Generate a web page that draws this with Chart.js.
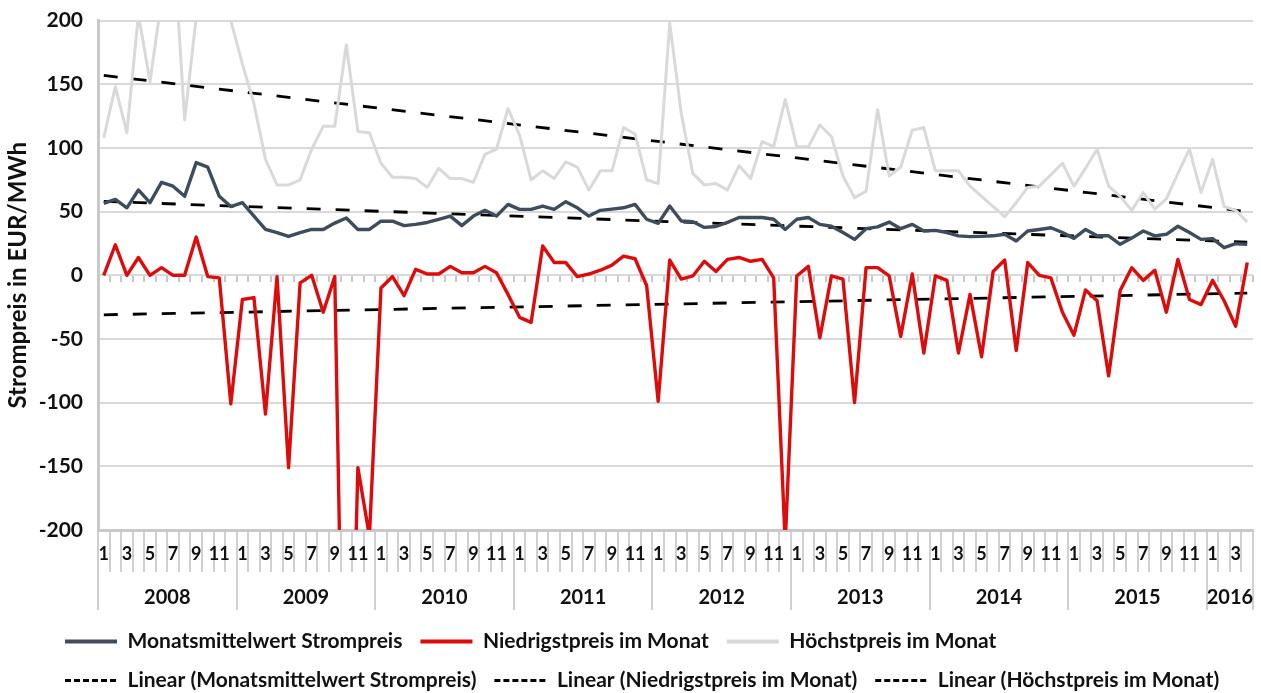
<!DOCTYPE html>
<html>
<head>
<meta charset="utf-8">
<script src="https://cdn.jsdelivr.net/npm/chart.js@4.4.0/dist/chart.umd.min.js"></script>
<style>
    html, body { margin: 0; padding: 0; background: #fff; }
    #rahmen { width: 1261px; height: 693px; }
</style>
</head>
<body>
<div id="rahmen"><canvas id="graficoStrompreis" width="1261" height="693"></canvas></div>
<script>
const jahre = ['2008', '2009', '2010', '2011', '2012', '2013', '2014', '2015', '2016'];
const monateProJahr = [12, 12, 12, 12, 12, 12, 12, 12, 4];

const yMin = -200;
const yMax = 200;
const ySchritt = 50;

// Monatswerte Jan 2008 - Apr 2016 (EUR/MWh)
const mittelwert = [
    56.5, 59.6, 53, 67, 57, 73, 70, 62, 88.5, 85, 62, 54,
    57, 46.5, 36, 33.5, 30.5, 33.5, 36, 36, 41, 45, 36, 36,
    42.5, 42.5, 39, 40, 41.5, 44, 46.5, 39, 46.5, 51, 46.5, 55.7,
    51.8, 51.8, 54.4, 51.8, 57.8, 53, 46.5, 51, 52, 53, 55.7, 44,
    40.8, 54.4, 42.6, 42, 37.6, 38.3, 41.6, 45.4, 45.4, 45.4, 44, 36,
    44, 45.4, 40, 38.5, 33.6, 28.2, 36.6, 38, 41.8, 36.6, 40, 34.8,
    35.3, 33.6, 31, 30.4, 30.6, 31, 32.2, 27, 34.8, 36, 37.3, 33.6,
    29, 36, 31, 31, 24.3, 29.2, 34.8, 31, 32.2, 38.5, 33.6, 28.2,
    28.8, 21.7, 24.8, 24.3
];

const niedrigstpreis = [
    0, 24, 0, 14, 0, 6, 0, 0, 30, -1, -2, -101,
    -19, -17.5, -109, -1, -151, -6, 0, -29, -1, -500, -151, -205,
    -10, -1, -16, 4.7, 1, 1, 7, 2, 2, 7, 2, -15,
    -33, -37, 23, 10, 10, -1, 1, 4, 8, 15, 13, -8,
    -99, 12, -3, -0.5, 11, 3, 12.5, 14, 11, 12.5, -2, -210,
    -0.5, 7, -49, -0.5, -3, -100, 6, 6, -0.5, -48, 1, -61,
    -0.5, -4, -61, -15, -64, 3, 12, -59, 10, 0, -2, -29,
    -47, -11.5, -20, -79, -12, 6, -4, 4, -29, 12.5, -19, -23,
    -4, -20, -40, 10
];

const hoechstpreis = [
    108, 148, 112, 205, 152, 216, 268, 122, 202, 240, 230, 200,
    166, 135, 91, 71, 71, 75, 99, 117, 117, 181, 113, 112,
    88, 77, 77, 76, 69, 84, 76, 76, 73, 95, 99, 131,
    110, 75, 82, 76, 89, 85, 67, 82, 82, 116, 111, 75,
    72, 198, 127, 80, 71, 72, 67, 86, 76, 105, 101, 138,
    101, 101, 118, 109, 78, 61, 66, 130, 78, 85, 114, 116,
    82, 82, 82, 70, 62, 54, 46, 57, 69, 70, 79, 88,
    70, 84, 99, 70, 62, 51, 65, 52, 60, 80, 99, 65,
    91, 54, 51, 42
];

// Anfangs- und Endwert der linearen Trendlinien
const trendMittelwert = [58, 26];
const trendNiedrigst = [-31, -14];
const trendHoechst = [157, 50];

// Monatsnummern und Jahresgrenzen aus den Arrays oben
const monate = [];
const jahrGrenzen = [-0.5];
const jahrMitten = [];
monateProJahr.forEach((anzahl, j) => {
    const start = monate.length;
    for (let m = 1; m <= anzahl; m++) monate.push(m);
    jahrMitten.push(start + (anzahl - 1) / 2);
    jahrGrenzen.push(monate.length - 0.5);
});
const jahrTicks = jahrGrenzen.concat(jahrMitten).sort((a, b) => a - b);

function trendDaten(enden) {
    const d = monate.map(() => null);
    d[0] = enden[0];
    d[d.length - 1] = enden[1];
    return d;
}

Chart.defaults.font.family = 'Lato, "Open Sans", sans-serif';
Chart.defaults.color = '#111';

const trendStil = {
    borderColor: '#000',
    backgroundColor: '#000',
    borderWidth: 2.8,
    borderDash: [14, 15],
    spanGaps: true
};

// y-Achse bis an den linken Rand ziehen, damit "-100" usw. nicht abgeschnitten werden
const yAchseFrei = {
    id: 'yAchseFrei',
    afterLayout(chart) {
        chart.scales.y.left = 0;
    }
};

const ctx = document.getElementById('graficoStrompreis').getContext('2d');
window.graficoStrompreis = new Chart(ctx, {
    type: 'line',
    data: {
        labels: monate.map(String),
        datasets: [
            {
                label: 'Monatsmittelwert Strompreis',
                data: mittelwert,
                borderColor: '#3e4c5b',
                backgroundColor: '#3e4c5b',
                borderWidth: 3.4
            },
            {
                label: 'Niedrigstpreis im Monat',
                data: niedrigstpreis,
                borderColor: '#dd0c0c',
                backgroundColor: '#dd0c0c',
                borderWidth: 3.4
            },
            {
                label: 'Höchstpreis im Monat',
                data: hoechstpreis,
                borderColor: '#d9d9d9',
                backgroundColor: '#d9d9d9',
                borderWidth: 3
            },
            Object.assign({ label: 'Linear (Monatsmittelwert Strompreis)', data: trendDaten(trendMittelwert) }, trendStil),
            Object.assign({ label: 'Linear (Niedrigstpreis im Monat)', data: trendDaten(trendNiedrigst) }, trendStil),
            Object.assign({ label: 'Linear (Höchstpreis im Monat)', data: trendDaten(trendHoechst) }, trendStil)
        ]
    },
    plugins: [yAchseFrei],
    options: {
        responsive: false,
        animation: false,
        layout: { padding: { left: 47, right: 8, top: 0, bottom: 0 } },
        elements: {
            point: { radius: 0, hoverRadius: 0 },
            line: { tension: 0, borderJoinStyle: 'round', fill: false }
        },
        plugins: {
            tooltip: { enabled: false },
            legend: {
                position: 'bottom',
                align: 'start',
                maxHeight: 80,
                labels: {
                    usePointStyle: true,
                    pointStyle: 'line',
                    pointStyleWidth: 52,
                    padding: 18,
                    color: '#111',
                    font: { size: 21, weight: 'bold' },
                    generateLabels: function (chart) {
                        const items = Chart.defaults.plugins.legend.labels.generateLabels(chart);
                        items.forEach(item => {
                            if (item.text.startsWith('Linear')) {
                                item.lineDash = [6, 3];
                                item.lineWidth = 3;
                            } else {
                                item.lineWidth = 4;
                            }
                        });
                        return items;
                    }
                }
            }
        },
        scales: {
            x: {
                type: 'category',
                position: 'bottom',
                offset: true,
                grid: { offset: true, drawOnChartArea: false, tickLength: 42, color: '#d0d0d0', lineWidth: 2 },
                border: { display: true, color: '#c9c9c9', width: 3 },
                ticks: {
                    autoSkip: false,
                    maxRotation: 0,
                    minRotation: 0,
                    padding: -29,
                    color: '#111',
                    font: { size: 18, weight: 'bold' },
                    callback: function (value, index) {
                        const m = monate[index];
                        return m % 2 === 1 ? String(m) : '';
                    }
                },
                afterFit: function (scale) {
                    scale.height = 33;
                }
            },
            xJahre: {
                type: 'linear',
                axis: 'x',
                position: 'bottom',
                min: -0.5,
                max: monate.length - 0.5,
                bounds: 'data',
                offset: false,
                afterBuildTicks: function (scale) {
                    scale.ticks = jahrTicks.map(v => ({ value: v }));
                },
                grid: {
                    drawOnChartArea: false,
                    tickLength: 47,
                    lineWidth: 2,
                    color: c => (c.tick && jahrGrenzen.includes(c.tick.value)) ? '#d0d0d0' : 'rgba(0,0,0,0)'
                },
                border: { display: false },
                ticks: {
                    autoSkip: false,
                    maxRotation: 0,
                    minRotation: 0,
                    padding: -24,
                    color: '#111',
                    font: { size: 20, weight: 'bold' },
                    callback: function (value) {
                        const i = jahrMitten.indexOf(value);
                        return i >= 0 ? jahre[i] : '';
                    }
                },
                afterFit: function (scale) {
                    scale.height = 50;
                }
            },
            xNull: {
                type: 'category',
                axis: 'x',
                position: { y: 0 },
                offset: true,
                grid: { offset: true, drawOnChartArea: false, tickLength: 7, color: '#c8c8c8', lineWidth: 2 },
                border: { display: false },
                ticks: { display: false }
            },
            y: {
                min: yMin,
                max: yMax,
                ticks: { stepSize: ySchritt, padding: 8, color: '#111', font: { size: 21, weight: 'bold' } },
                grid: { color: '#d9d9d9', lineWidth: 2, drawTicks: true, tickLength: 7, tickColor: 'rgba(0,0,0,0)' },
                border: { color: '#c9c9c9', width: 3 },
                title: {
                    display: true,
                    text: 'Strompreis in EUR/MWh',
                    color: '#111',
                    font: { size: 24, weight: 'bold' },
                    padding: { top: 4, bottom: 0 }
                },
                afterFit: function (scale) {
                    scale.width = 51;
                }
            }
        }
    }
});
</script>
</body>
</html>
